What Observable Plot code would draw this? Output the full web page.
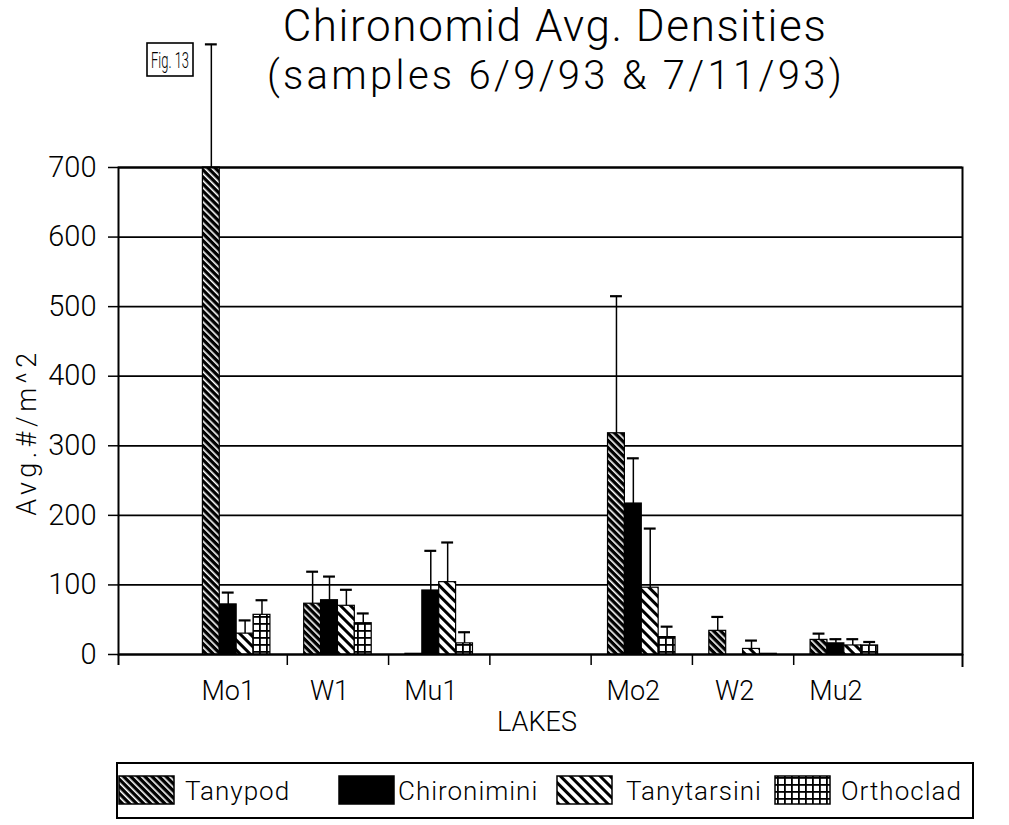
<!DOCTYPE html>
<html><head><meta charset="utf-8">
<script src="https://cdn.jsdelivr.net/npm/d3@7"></script>
<script src="https://cdn.jsdelivr.net/npm/@observablehq/plot@0.6"></script>
<style>
body{margin:0;background:#fff;}
#wrap{position:relative;width:1009px;height:825px;overflow:hidden;background:#fff;}
#chart{position:absolute;left:0;top:0;}
#over{position:absolute;left:0;top:0;}
svg text{font-family:Roboto,"DejaVu Sans",sans-serif;font-weight:300;}
</style></head><body>
<div id="wrap">
<svg width="0" height="0" style="position:absolute">
<defs>
<pattern id="pTanypod" width="5" height="5" patternUnits="userSpaceOnUse" patternTransform="rotate(-45)">
<rect width="5" height="5" fill="#000"/><rect x="0" y="0" width="1.6" height="5" fill="#fff"/></pattern>
<pattern id="pTanyt" width="7" height="7" patternUnits="userSpaceOnUse" patternTransform="rotate(-45)">
<rect width="7" height="7" fill="#fff"/><rect x="0" y="0" width="3" height="7" fill="#000"/></pattern>
<pattern id="pOrtho" width="7" height="7" patternUnits="userSpaceOnUse">
<rect width="7" height="7" fill="#fff"/><rect x="0" y="0" width="1.8" height="7" fill="#000"/><rect x="0" y="0" width="7" height="1.8" fill="#000"/></pattern>
</defs></svg>
<div id="chart"></div>
<svg id="over" width="1009" height="825"></svg>
</div>
<script>
// ---- data ----
const lakes = ["Mo1", "W1", "Mu1", "", "Mo2", "W2", "Mu2"];
const series = ["Tanypod", "Chironimini", "Tanytarsini", "Orthoclad"];
const tanypod      = [700, 73, 1, null, 318, 34, 21];
const tanypodSD    = [177, 46, 0, null, 197, 20, 9];
const chironimini  = [72, 78, 92, null, 217, 0, 16];
const chironiminiSD= [17, 34, 57, null, 65, 0, 6];
const tanytarsini  = [30, 70, 104, null, 96, 8, 13];
const tanytarsiniSD= [19, 23, 57, null, 85, 12, 9];
const orthoclad    = [57, 45, 16, null, 25, 1, 13];
const orthocladSD  = [21, 14, 16, null, 15, 0, 5];
const yTicks = [0, 100, 200, 300, 400, 500, 600, 700];
const fills = ["url(#pTanypod)", "#000", "url(#pTanyt)", "url(#pOrtho)"];

const values = [tanypod, chironimini, tanytarsini, orthoclad];
const sds = [tanypodSD, chironiminiSD, tanytarsiniSD, orthocladSD];

// ---- build table ----
const rows = [];
lakes.forEach((lake, i) => {
  if (!lake) return;
  series.forEach((s, j) => {
    rows.push({key: i + "|" + s, lake, series: s, value: values[j][i], sd: sds[j][i]});
  });
});
const errRows = rows.filter(d => d.sd > 0);

const xDomain = [];
for (let k = 0; k < 4; k++) xDomain.push("L" + k);
lakes.forEach((l, i) => {
  xDomain.push(i + "|padL");
  series.forEach(s => xDomain.push(i + "|" + s));
  xDomain.push(i + "|padR");
});
for (let k = 0; k < 4; k++) xDomain.push("R" + k);

const W = 1009, H = 750, mL = 118, mR = 47, mT = 167, mB = 96;
const bw = (W - mL - mR) / xDomain.length;
const boundaryKeys = lakes.map((l, i) => i + "|padL").slice(1);
const labelKeys = lakes.map((l, i) => l ? i + "|Chironimini" : null).filter(Boolean);

const chart = Plot.plot({
  width: W, height: H,
  marginLeft: mL, marginRight: mR, marginTop: mT, marginBottom: mB,
  style: {background: "white", overflow: "visible", color: "black"},
  x: {type: "band", domain: xDomain, padding: 0, axis: null},
  y: {domain: [0, 700], axis: null},
  color: {domain: series, range: fills},
  marks: [
    Plot.gridY(yTicks, {stroke: "black", strokeOpacity: 1, strokeWidth: 1.8}),
    Plot.barY(rows, {x: "key", y: "value", fill: "series", stroke: "black", strokeWidth: 1.2}),
    Plot.ruleX(errRows, {x: "key", y1: "value", y2: d => d.value + d.sd, stroke: "black", strokeWidth: 1.5}),
    Plot.tickY(errRows, {x: "key", y: d => d.value + d.sd, stroke: "black", strokeWidth: 2.2, insetLeft: 2.5, insetRight: 2.5}),
    Plot.frame({stroke: "black", strokeWidth: 2}),
    Plot.axisY(yTicks, {tickSize: 10, tickPadding: 12, fontSize: 29, label: null, strokeWidth: 1.5}),
    Plot.axisX(boundaryKeys, {tickSize: 11, tickFormat: () => "", dx: -bw / 2, label: null, strokeWidth: 1.5}),
    Plot.axisX(["L0"], {tickSize: 11, tickFormat: () => "", dx: -bw / 2, label: null, strokeWidth: 2}),
    Plot.axisX(["R3"], {tickSize: 13, tickFormat: () => "", dx: bw / 2, label: null, strokeWidth: 2}),
    Plot.axisX(labelKeys, {tickSize: 0, tickPadding: 26, fontSize: 27, label: null,
      tickFormat: k => lakes[+k.split("|")[0]]})
  ]
});
document.getElementById("chart").appendChild(chart);

// ---- titles, labels, legend ----
const o = d3.select("#over");
o.append("text").attr("x", 555).attr("y", 41).attr("text-anchor", "middle")
  .attr("font-size", 44).attr("letter-spacing", 1.6).text("Chironomid Avg. Densities");
o.append("text").attr("x", 556).attr("y", 89).attr("text-anchor", "middle")
  .attr("font-size", 40).attr("letter-spacing", 3.3).text("(samples 6/9/93 & 7/11/93)");
o.append("rect").attr("x", 147).attr("y", 43).attr("width", 46).attr("height", 33)
  .attr("fill", "white").attr("stroke", "black").attr("stroke-width", 1.6);
o.append("text").attr("x", 151).attr("y", 68)
  .attr("font-size", 22).attr("textLength", 38).attr("lengthAdjust", "spacingAndGlyphs").text("Fig. 13");
o.append("text").attr("x", 537).attr("y", 731).attr("text-anchor", "middle")
  .attr("font-size", 27).text("LAKES");
o.append("text").attr("transform", "translate(36,432) rotate(-90)").attr("text-anchor", "middle")
  .attr("font-size", 27).attr("letter-spacing", 4.5).text("Avg.#/m^2");

o.append("rect").attr("x", 117).attr("y", 763).attr("width", 856).attr("height", 55)
  .attr("fill", "none").attr("stroke", "black").attr("stroke-width", 2);
const swX = [119, 339, 557, 775];
const txX = [185, 398, 626, 841];
series.forEach((s, j) => {
  o.append("rect").attr("x", swX[j]).attr("y", 776).attr("width", 55).attr("height", 28)
    .attr("fill", fills[j]).attr("stroke", "black").attr("stroke-width", 1.5);
  o.append("text").attr("x", txX[j]).attr("y", 800).attr("font-size", 26)
    .attr("letter-spacing", 1).text(s);
});
</script>
</body></html>
